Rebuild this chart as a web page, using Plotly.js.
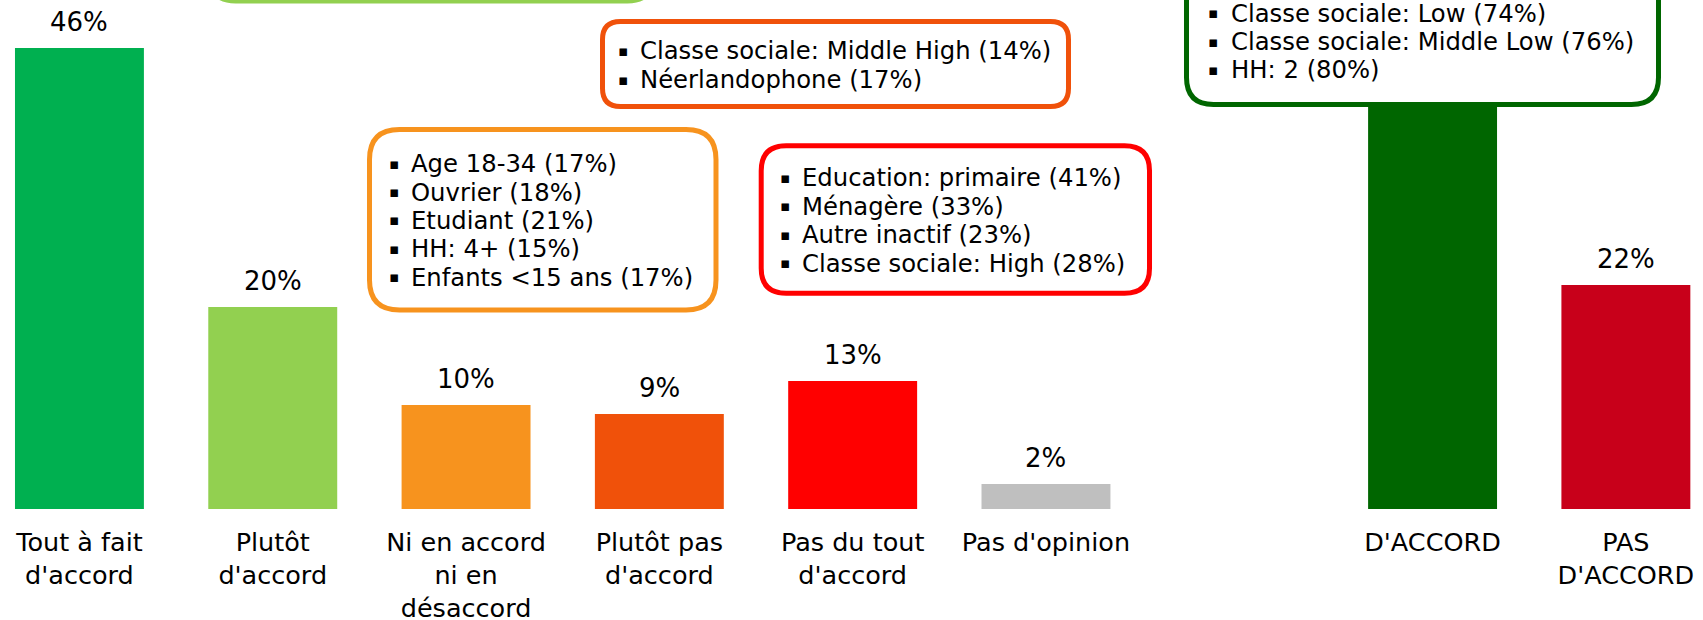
<!DOCTYPE html>
<html>
<head>
<meta charset="utf-8">
<script src="https://cdn.plot.ly/plotly-3.0.1.min.js"></script>
<style>html,body{margin:0;padding:0;background:#fff;}#chart{width:1703px;height:620px;}</style>
</head>
<body>
<div id="chart"></div>
<script>
// ---- data ----
const categories = ["Tout à fait<br>d'accord", "Plutôt<br>d'accord", "Ni en accord<br>ni en<br>désaccord", "Plutôt pas<br>d'accord", "Pas du tout<br>d'accord", "Pas d'opinion", " ", "D'ACCORD", "PAS<br>D'ACCORD"];
const values = [46.1, 20.2, 10.4, 9.5, 12.8, 2.5, null, 66.3, 22.4];
const valueLabels = ["46%", "20%", "10%", "9%", "13%", "2%", "", "66%", "22%"];
const barColors = ["#00B050", "#92D050", "#F7931E", "#F0510A", "#FF0000", "#BFBFBF", "#FFFFFF", "#006600", "#C8001A"];

const boxOrangeRedLines = ["Classe sociale: Middle High (14%)", "Néerlandophone (17%)"];
const boxOrangeLines = ["Age 18-34 (17%)", "Ouvrier (18%)", "Etudiant (21%)", "HH: 4+ (15%)", "Enfants &lt;15 ans (17%)"];
const boxRedLines = ["Education: primaire (41%)", "Ménagère (33%)", "Autre inactif (23%)", "Classe sociale: High (28%)"];
const boxGreenLines = ["Classe sociale: Low (74%)", "Classe sociale: Middle Low (76%)", "HH: 2 (80%)"];

// ---- layout helpers ----
const W = 1703, PH = 509;
const X = p => p / W;
const Y = p => 1 - p / PH;
const FONT = "DejaVu Sans, Verdana, sans-serif";

function roundedRect(L, T, R, B, r, w, color) {
  const l = L + w / 2, t = T + w / 2, rr = R - w / 2, b = B - w / 2;
  const pts = [
    ["M", l + r, t], ["L", rr - r, t], ["Q", rr, t, rr, t + r], ["L", rr, b - r],
    ["Q", rr, b, rr - r, b], ["L", l + r, b], ["Q", l, b, l, b - r], ["L", l, t + r],
    ["Q", l, t, l + r, t]
  ];
  let path = "";
  pts.forEach(p => {
    path += p[0];
    for (let i = 1; i < p.length; i += 2) path += X(p[i]).toFixed(5) + "," + Y(p[i + 1]).toFixed(5) + " ";
  });
  path += "Z";
  return {type: "path", xref: "paper", yref: "paper", path: path, fillcolor: "#FFFFFF",
          line: {color: color, width: w}, layer: "above"};
}

const annotations = [];
// value labels above bars
categories.forEach((c, i) => {
  if (values[i] === null) return;
  annotations.push({x: c, y: values[i], xref: "x", yref: "y", text: valueLabels[i], showarrow: false,
    yanchor: "bottom", yshift: 9, font: {family: FONT, size: 26, color: "#000"}});
});

function boxText(lines, bulletX, textX, firstY, step) {
  lines.forEach((t, i) => {
    const yy = Y(firstY + i * step);
    annotations.push({xref: "paper", yref: "paper", x: X(bulletX), y: yy, xanchor: "left", yanchor: "middle",
      text: "▪", showarrow: false, font: {family: FONT, size: 15, color: "#000"}});
    annotations.push({xref: "paper", yref: "paper", x: X(textX), y: yy, xanchor: "left", yanchor: "middle",
      text: t, showarrow: false, font: {family: FONT, size: 24.3, color: "#000"}});
  });
}
boxText(boxOrangeRedLines, 616, 638, 50.8, 29);
boxText(boxOrangeLines, 387, 408.7, 163.7, 28.4);
boxText(boxRedLines, 777.8, 800, 177.8, 28.4);
boxText(boxGreenLines, 1206.3, 1228.7, 13, 28.5);

const shapes = [
  roundedRect(208, -250, 655, 3.5, 25, 5, "#92D050"),
  roundedRect(600, 19, 1071, 109, 18, 5, "#F0510A"),
  roundedRect(367, 127, 718.5, 312.5, 30, 5, "#F7931E"),
  roundedRect(758.7, 143.3, 1152, 295.7, 25, 5, "#FF0000"),
  roundedRect(1184, -250, 1661, 107, 27, 5, "#006600")
];

const trace = {
  type: "bar", x: categories, y: values, width: 0.667,
  marker: {color: barColors}, hoverinfo: "none"
};

const layout = {
  width: 1703, height: 620,
  margin: {l: 0, r: 0, t: 0, b: 111, pad: 0},
  paper_bgcolor: "#FFFFFF", plot_bgcolor: "#FFFFFF",
  showlegend: false,
  xaxis: {type: "category", categoryorder: "array", categoryarray: categories,
          range: [-0.411, 8.399], showgrid: false, zeroline: false, showline: false, ticks: "",
          ticklabelstandoff: 15,
          tickfont: {family: FONT, size: 25.5, color: "#000"}, fixedrange: true},
  yaxis: {range: [0, PH / 10], visible: false, fixedrange: true},
  shapes: shapes,
  annotations: annotations
};

Plotly.newPlot("chart", [trace], layout, {displayModeBar: false, staticPlot: true});
</script>
</body>
</html>
